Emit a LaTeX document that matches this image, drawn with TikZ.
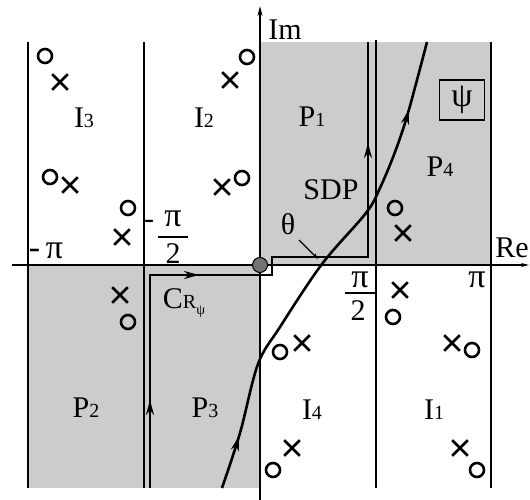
\documentclass[tikz,border=0pt]{standalone}
\usepackage{fontspec}
\setmainfont{Liberation Serif}
\usetikzlibrary{arrows.meta,decorations.markings,shapes.misc}
\tikzset{
 bnd/.style={line width=1.7pt},
 lbl/.style={font=\fontsize{30}{30}\selectfont, inner sep=0pt},
 pil/.style={font=\fontsize{34}{34}\selectfont, inner sep=0pt},
 om/.style={circle, draw, line width=2.6pt, minimum size=14pt, inner sep=0pt},
 xm/.style={cross out, draw, line width=2.6pt, minimum size=13pt, inner sep=0pt},
 shadearea/.style={fill=black!20, draw=none},
}
\newcommand\smd[1]{{\fontsize{20}{20}\selectfont #1}}
\begin{document}
\begin{tikzpicture}[x=1pt,y=-1pt]
\useasboundingbox (0,0) rectangle (530,500);
% shading
\fill[shadearea] (260,42) rectangle (491,265);
\fill[shadearea] (28,265) rectangle (260,488);
% strip boundaries
\draw[bnd] (28,42) -- (28,488);
\draw[bnd] (144,42) -- (144,488);
\draw[bnd] (376,40) -- (376,488);
\draw[bnd] (491,42) -- (491,488);
% axes
\coordinate (imB) at (260,500);
\coordinate (imT) at (260,6);
\coordinate (reL) at (12,265);
\coordinate (reR) at (529,265);
\draw[line width=1.7pt,-{Stealth[length=10pt,width=5pt]}] (imB) -- (imT);
\draw[line width=1.5pt,-{Stealth[length=8pt,width=4pt]}] (reL) -- (reR);
% contour C_R
\draw[line width=2.4pt, postaction={decorate}, decoration={markings,
  mark=at position 88pt with {\arrow{Stealth[length=15pt,width=8pt]}},
  mark=at position 262pt with {\arrow{Stealth[length=15pt,width=8pt]}},
  mark=at position 563pt with {\arrow{Stealth[length=15pt,width=8pt]}}}]
  (150,488) -- (150,275) -- (272,275) -- (272,257) -- (368,257) -- (368,42);
% SDP curve
\draw[line width=2.6pt, postaction={decorate}, decoration={markings,
  mark=at position 0.11 with {\arrow{Stealth[length=15pt,width=8pt]}},
  mark=at position 0.86 with {\arrow{Stealth[length=15pt,width=8pt]}}}]
  plot[smooth, tension=0.55] coordinates {(222,488) (240,433) (258,364) (280,327) (322,264) (366,213) (380,188) (395,152) (408,113) (427,42)};
% origin dot
\node[circle, fill=black!55, draw, line width=1pt, minimum size=15pt, inner sep=0pt] (O) at (260,265) {};
% theta pointer
\node[lbl] (th) at (288,224) {θ};
\coordinate (thp) at (318,259);
\draw[line width=1.2pt,-{Stealth[length=6pt,width=4pt]}] (299,240) -- (thp);
% region labels
\node[lbl] (I3) at (84,118) {I\smd{3}};
\node[lbl] (I2) at (204,118) {I\smd{2}};
\node[lbl] (P1) at (312,117) {P\smd{1}};
\node[lbl] (P4) at (440,167) {P\smd{4}};
\node[lbl] (SDP) at (331,190) {SDP};
\node[pil, draw, line width=1.5pt, minimum width=45pt, minimum height=40pt] (psi) at (462,100) {ψ};
\node[lbl] (Im) at (285,30) {Im};
\node[lbl, anchor=east] (Re) at (529,248) {Re};
\node[lbl] (P2) at (86,408) {P\smd{2}};
\node[lbl] (P3) at (205,408) {P\smd{3}};
\node[lbl] (I4) at (312,410) {I\smd{4}};
\node[lbl] (I1) at (434,410) {I\smd{1}};
\node[lbl] (CR) at (184,303) {C\smd{R}\raisebox{-6pt}{\fontsize{14}{14}\selectfont ψ}};
% axis tick labels
\node[pil] (mpi) at (46,251) {-\,π};
\node[lbl] (mh) at (149,224) {-};
\node[pil] (mpiA) at (173,219) {π};
\node[lbl] (mtwoA) at (173,254) {2};
\draw[line width=1.4pt] (158,237) -- (188,237);
\node[pil] (ppiA) at (360,280) {π};
\node[lbl] (ptwoA) at (358,311) {2};
\draw[line width=1.4pt] (345,293) -- (376,293);
\node[pil] (ppi) at (477,280) {π};
% poles and zeros
\node[om] (o1) at (45,56) {};   \node[xm] (x1) at (60,82) {};
\node[om] (o2) at (50,177) {};  \node[xm] (x2) at (70,185) {};
\node[om] (o3) at (128,208) {}; \node[xm] (x3) at (122,237) {};
\node[xm] (x4) at (230,80) {};  \node[om] (o4) at (247,57) {};
\node[xm] (x5) at (222,187) {}; \node[om] (o5) at (242,178) {};
\node[om] (o6) at (395,208) {}; \node[xm] (x6) at (403,233) {};
\node[xm] (x7) at (120,295) {}; \node[om] (o7) at (128,322) {};
\node[xm] (x8) at (400,290) {}; \node[om] (o8) at (393,317) {};
\node[om] (o9) at (280,352) {}; \node[xm] (x9) at (302,343) {};
\node[xm] (x10) at (452,343) {}; \node[om] (o10) at (472,350) {};
\node[xm] (x11) at (292,448) {}; \node[om] (o11) at (273,470) {};
\node[xm] (x12) at (460,448) {}; \node[om] (o12) at (477,470) {};
\end{tikzpicture}
\end{document}
